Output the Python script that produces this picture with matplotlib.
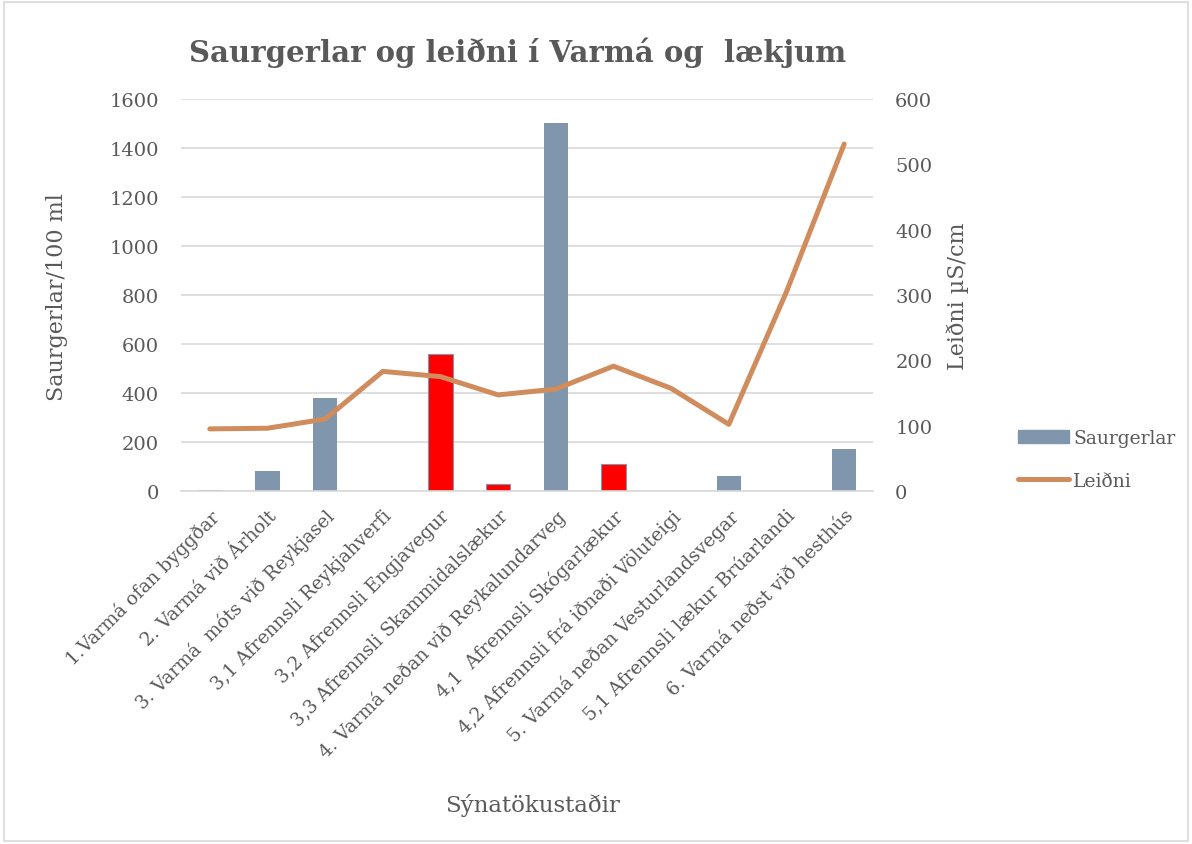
import matplotlib.pyplot as plt
from matplotlib.lines import Line2D
from matplotlib.patches import Patch, Rectangle

# data
stadir = [
    "1.Varmá ofan byggðar",
    "2. Varmá við Árholt",
    "3. Varmá  móts við Reykjasel",
    "3,1 Afrennsli Reykjahverfi",
    "3,2 Afrennsli Engjavegur",
    "3,3 Afrennsli Skammidalslækur",
    "4. Varmá neðan við Reykalundarveg",
    "4,1  Afrennsli Skógarlækur",
    "4,2 Afrennsli frá iðnaði Völuteigi",
    "5. Varmá neðan Vesturlandsvegar",
    "5,1 Afrennsli lækur Brúarlandi",
    "6. Varmá neðst við hesthús",
]
saurgerlar = [3, 80, 380, 0, 560, 30, 1500, 110, 0, 60, 0, 170]
leidni = [95, 96, 110, 183, 175, 147, 156, 191, 157, 102, 305, 531]
red_bars = [4, 5, 7]

BLUE = "#7F96AD"
RED = "#FF0000"
ORANGE = "#D08C5C"
GRID = "#D9D9D9"
TXT = "#595959"

plt.rcParams['font.family'] = ['DejaVu Serif']

fig = plt.figure(figsize=(11.92, 8.45), dpi=100)
ax = fig.add_axes([0.1518, 0.4178, 0.5806, 0.4639])
ax2 = ax.twinx()

x = list(range(len(stadir)))
colors = [RED if i in red_bars else BLUE for i in x]
edges = [BLUE if i in red_bars else "none" for i in x]
ax.bar(x, saurgerlar, width=0.42, color=colors, edgecolor=edges, linewidth=0.8, zorder=2)
ax2.plot(x, leidni, color=ORANGE, linewidth=3.6, solid_capstyle='round',
         solid_joinstyle='round', zorder=3)

ax.set_xlim(-0.5, len(stadir) - 0.5)
ax.set_ylim(0, 1600)
ax2.set_ylim(0, 600)
ax.set_yticks(range(0, 1601, 200))
ax2.set_yticks(range(0, 601, 100))
ax.grid(axis='y', color=GRID, linewidth=1.2, zorder=0)
ax.set_axisbelow(True)

for a in (ax, ax2):
    for s in a.spines.values():
        s.set_visible(False)
    a.tick_params(length=0, colors=TXT, labelsize=14)
ax.spines['bottom'].set_visible(True)
ax.spines['bottom'].set_color(GRID)
ax.spines['bottom'].set_linewidth(1.2)

ax.tick_params(axis='y', pad=16)
ax2.tick_params(axis='y', pad=16)
ax.set_xticks(x)
ax.set_xticklabels(stadir, rotation=45, ha='right', rotation_mode='anchor', fontsize=13.5)
ax.tick_params(axis='x', pad=11)

fig.text(57 / 1192, 1 - 297 / 845, "Saurgerlar/100 ml", rotation=90, ha='center', va='center',
         color=TXT, fontsize=16)
fig.text(958 / 1192, 1 - 296 / 845, "Leiðni µS/cm", rotation=90, ha='center', va='center',
         color=TXT, fontsize=16)
fig.text(533 / 1192, 0.047, "Sýnatökustaðir", ha='center', va='center', color=TXT, fontsize=16.5)

fig.text(0.434, 0.938, "Saurgerlar og leiðni í Varmá og  lækjum", ha='center', va='center',
         color=TXT, fontsize=21, fontweight='bold')

handles = [Patch(color=BLUE), Line2D([0], [0], color=ORANGE, linewidth=3.6, solid_capstyle='round')]
fig.legend(handles, ["Saurgerlar", "Leiðni"], loc='center left', bbox_to_anchor=(0.84, 0.455),
           frameon=False, fontsize=13.5, labelcolor=TXT, handlelength=2.7, labelspacing=1.3,
           handletextpad=0.25)

fig.add_artist(Rectangle((0.003, 0.003), 0.994, 0.994, transform=fig.transFigure,
                         fill=False, edgecolor=GRID, linewidth=1.2))

fig.savefig("out.png", dpi=100)
